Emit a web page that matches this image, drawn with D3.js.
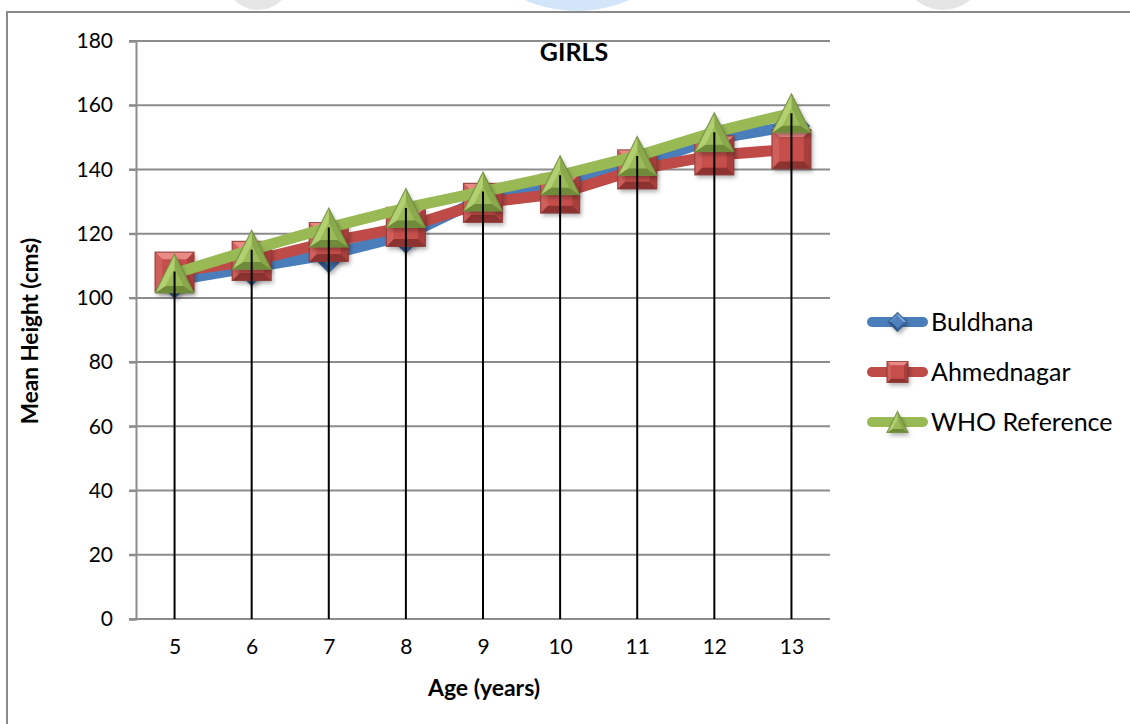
<!DOCTYPE html>
<html>
<head>
<meta charset="utf-8">
<script src="https://cdn.jsdelivr.net/npm/d3@7"></script>
<style>
  html, body { margin: 0; padding: 0; background: #fff; }
  svg { display: block; }
</style>
</head>
<body>
<div id="chart"></div>
<script>
// ---- data ----
let ages = [5, 6, 7, 8, 9, 10, 11, 12, 13];
let buldhana = [105.5, 109.5, 113.5, 119.5, 131, 135.5, 141.5, 149.5, 153.5];
let ahmednagar = [108.2, 111.5, 117.4, 122.1, 129.6, 132.5, 140, 144.4, 146.3];
let whoRef = [107.6, 115, 121.9, 128, 133.1, 138.2, 144.2, 151.6, 157.5];
let yTicks = [0, 20, 40, 60, 80, 100, 120, 140, 160, 180];
let seriesNames = ["Buldhana", "Ahmednagar", "WHO Reference"];

let w = 1130;
let h = 724;
let plotLeft = 136, plotRight = 830, plotTop = 41, plotBottom = 619;
let font = "Lato, 'Open Sans', sans-serif";

let svg = d3.select("#chart").append("svg")
  .attr("width", w)
  .attr("height", h);

let defs = svg.append("defs");
let shadow = defs.append("filter").attr("id", "shadow")
  .attr("x", "-30%").attr("y", "-30%").attr("width", "160%").attr("height", "160%");
shadow.append("feDropShadow")
  .attr("dx", 2).attr("dy", 3).attr("stdDeviation", 2)
  .attr("flood-color", "#000").attr("flood-opacity", 0.3);

// faint page background blobs peeking at the top
let blobs = svg.append("g");
blobs.append("ellipse").attr("cx", 258).attr("cy", -30).attr("rx", 36).attr("ry", 40).attr("fill", "#e6e6e6");
blobs.append("ellipse").attr("cx", 577).attr("cy", -80).attr("rx", 110).attr("ry", 91).attr("fill", "#d3e6f9");
blobs.append("ellipse").attr("cx", 943).attr("cy", -32).attr("rx", 42).attr("ry", 42).attr("fill", "#e5e5e5");

// outer chart border (top + left edge visible)
svg.append("rect").attr("x", 0).attr("y", 11).attr("width", w).attr("height", h).attr("fill", "#fff");
svg.append("path")
  .attr("d", "M7," + h + " L7,12 L" + w + ",12")
  .attr("fill", "none").attr("stroke", "#8a8a8a").attr("stroke-width", 2);

let xScale = d3.scalePoint().domain(ages).range([plotLeft, plotRight]).padding(0.5);
let yScale = d3.scaleLinear().domain([0, 180]).range([plotBottom, plotTop]);

// gridlines
svg.append("g").selectAll("line").data(yTicks).join("line")
  .attr("x1", plotLeft - 7).attr("x2", plotRight)
  .attr("y1", d => yScale(d)).attr("y2", d => yScale(d))
  .attr("stroke", "#8c8c8c").attr("stroke-width", 2);

// y axis
let yAxisGroup = svg.append("g").attr("transform", "translate(" + plotLeft + ",0)");
yAxisGroup.call(d3.axisLeft(yScale).tickValues(yTicks).tickSize(7).tickPadding(16));
yAxisGroup.select(".domain").attr("stroke", "#8c8c8c").attr("stroke-width", 2);
yAxisGroup.selectAll(".tick line").attr("stroke", "#8c8c8c").attr("stroke-width", 2);
yAxisGroup.selectAll(".tick text")
  .attr("fill", "#000").style("font-family", font).style("font-size", "21px");

// x axis labels
let xAxisGroup = svg.append("g").attr("transform", "translate(0," + plotBottom + ")");
xAxisGroup.call(d3.axisBottom(xScale).tickSize(0).tickPadding(20));
xAxisGroup.select(".domain").remove();
xAxisGroup.selectAll(".tick text")
  .attr("fill", "#000").style("font-family", font).style("font-size", "21px");

// titles
svg.append("text").text("GIRLS")
  .attr("x", 574).attr("y", 61).attr("text-anchor", "middle")
  .style("font-family", font).style("font-weight", "bold").style("font-size", "25px");
svg.append("text").text("Age (years)")
  .attr("x", 484).attr("y", 696).attr("text-anchor", "middle")
  .style("font-family", font).style("font-weight", "bold").style("font-size", "23px");
svg.append("text").text("Mean Height (cms)")
  .attr("transform", "translate(38,331) rotate(-90)").attr("text-anchor", "middle")
  .style("font-family", font).style("font-weight", "bold").style("font-size", "22.5px");

// ---- bevelled marker shapes ----
function shrink(pts, c, k) {
  return pts.map(p => [c[0] + (p[0] - c[0]) * k, c[1] + (p[1] - c[1]) * k]);
}
function outline(kind, s) {
  let r = s / 2;
  if (kind === "square") return { pts: [[-r, -r], [r, -r], [r, r], [-r, r]], c: [0, 0] };
  if (kind === "diamond") return { pts: [[0, -r], [r, 0], [0, r], [-r, 0]], c: [0, 0] };
  return { pts: [[0, -r], [r, r], [-r, r]], c: [0, r / 3] };
}
function facets(kind, s) {
  let o = outline(kind, s);
  let outer = o.pts;
  let inner = shrink(outer, o.c, kind === "triangle" ? 0.45 : 0.62);
  let out = [];
  for (let i = 0; i < outer.length; i++) {
    let j = (i + 1) % outer.length;
    out.push({ d: "M" + [outer[i], outer[j], inner[j], inner[i]].join("L") + "Z", i: i });
  }
  out.push({ d: "M" + inner.join("L") + "Z", i: "c" });
  return out;
}

let styles = [
  { name: seriesNames[0], values: buldhana, line: "#4a7ebb", kind: "diamond", size: 36,
    shades: ["#83a9dc", "#3d6aa4", "#2f578a", "#5f8fcb"], center: "#4f81bd", stroke: "#385d8a" },
  { name: seriesNames[1], values: ahmednagar, line: "#be4b48", kind: "square", size: 39,
    shades: ["#ea8a86", "#a93f3c", "#8c3230", "#cf5f5b"], center: "#c64e4b", stroke: "#8c3836" },
  { name: seriesNames[2], values: whoRef, line: "#98b954", kind: "triangle", size: 39,
    shades: ["#8aa84c", "#6f8b39", "#b3d070"], center: "#9bbb59", stroke: "#71893f" }
];

function drawMarker(g, st, size) {
  let shape = "M" + outline(st.kind, size).pts.join("L") + "Z";
  g.append("path").attr("d", shape).attr("fill", st.center).attr("filter", "url(#shadow)");
  facets(st.kind, size).forEach(f => {
    g.append("path").attr("d", f.d)
      .attr("fill", f.i === "c" ? st.center : st.shades[f.i]);
  });
  g.append("path").attr("d", shape)
    .attr("fill", "none").attr("stroke", st.stroke).attr("stroke-width", 1.2).attr("stroke-opacity", 0.8);
}

let line = d3.line().x((d, i) => xScale(ages[i])).y(d => yScale(d));

styles.forEach(st => {
  let g = svg.append("g");
  g.append("path").datum(st.values)
    .attr("d", line)
    .attr("fill", "none").attr("stroke", st.line)
    .attr("stroke-width", 11).attr("stroke-linejoin", "round");
  st.values.forEach((v, i) => {
    let m = g.append("g").attr("transform", "translate(" + xScale(ages[i]) + "," + yScale(v) + ")");
    drawMarker(m, st, st.size);
  });
});

// drop lines from the highest point to the axis
svg.append("g").selectAll("line").data(ages).join("line")
  .attr("x1", d => xScale(d)).attr("x2", d => xScale(d))
  .attr("y1", (d, i) => yScale(Math.max(buldhana[i], ahmednagar[i], whoRef[i])))
  .attr("y2", yScale(0))
  .attr("stroke", "#000").attr("stroke-width", 2);

// legend
let legendY = [322, 372, 422];
let legend = svg.append("g");
styles.forEach((st, i) => {
  let g = legend.append("g").attr("transform", "translate(0," + legendY[i] + ")");
  g.append("line").attr("x1", 872).attr("x2", 923).attr("y1", 0).attr("y2", 0)
    .attr("stroke", st.line).attr("stroke-width", 10).attr("stroke-linecap", "round");
  let m = g.append("g").attr("transform", "translate(897.5,0)");
  drawMarker(m, st, st.kind === "diamond" ? 19 : 21);
  g.append("text").text(st.name)
    .attr("x", 931).attr("y", 0).attr("dy", "0.36em")
    .style("font-family", font).style("font-size", "25px");
});
</script>
</body>
</html>
